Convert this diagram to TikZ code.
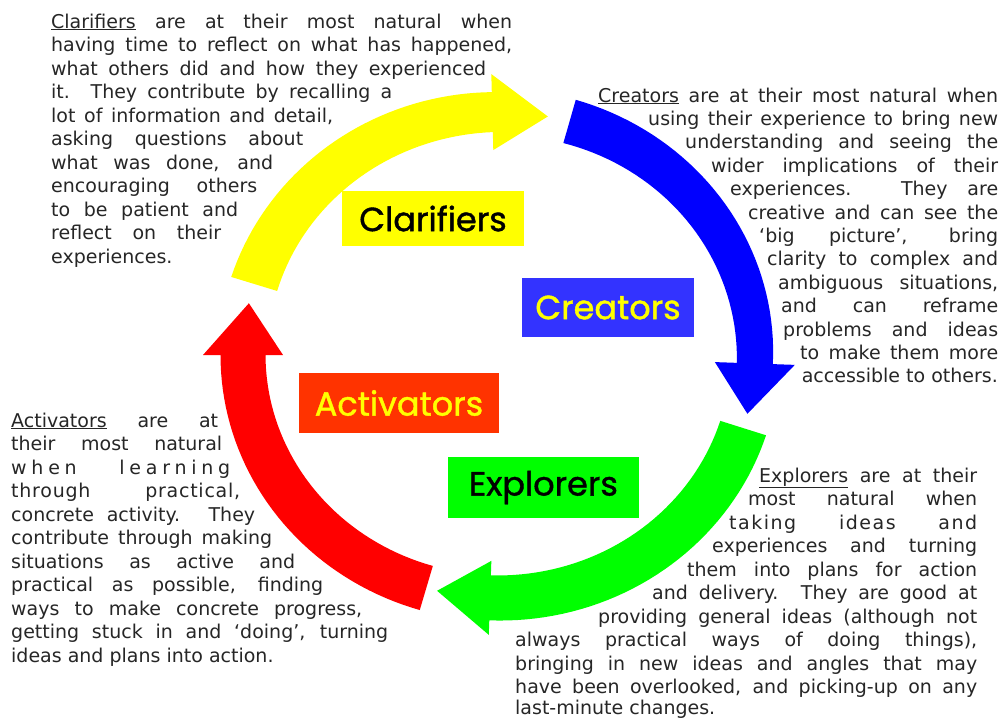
\documentclass[tikz,border=0pt]{standalone}
\usepackage{fontspec}
\setmainfont{DejaVu Sans}
\newfontfamily\labelfont[FakeBold=1.2]{Poppins}
\definecolor{aryellow}{HTML}{FFFF00}
\definecolor{arblue}{HTML}{0000FF}
\definecolor{argreen}{HTML}{00FF00}
\definecolor{arred}{HTML}{FF0000}
\definecolor{boxblue}{HTML}{3333FF}
\definecolor{boxred}{HTML}{FF3300}
% #1 colour, #2 tail angle, #3 head-back angle, #4 tip angle,
% #5 half width at tail, #6 half width at head, #7 half width of head
\newcommand\cyclearrow[7]{%
  \fill[#1] plot[domain=#2:#3, samples=40, variable=\t]
      ({(256+#5+(#6-#5)*(\t-(#2))/((#3)-(#2)))*cos(\t)},{(243+#5+(#6-#5)*(\t-(#2))/((#3)-(#2)))*sin(\t)})
    -- ({(256+#7)*cos(#3)},{(243+#7)*sin(#3)})
    -- ({256*cos(#4)},{243*sin(#4)})
    -- ({(256-#7)*cos(#3)},{(243-#7)*sin(#3)})
    -- plot[domain=#3:#2, samples=40, variable=\t]
      ({(256-#5-(#6-#5)*(\t-(#2))/((#3)-(#2)))*cos(\t)},{(243-#5-(#6-#5)*(\t-(#2))/((#3)-(#2)))*sin(\t)})
    -- cycle;}
\newcommand\jl[5]{\node[bodyline] (#1) at (#2,#3) {\makebox[#4pt][s]{#5}};}
\tikzset{
  bodyline/.style={anchor=base west, inner sep=0pt, text=black!85},
  labelbox/.style={rectangle, inner sep=0pt, font=\labelfont\fontsize{33.5}{33.5}\selectfont}
}
\begin{document}
\begin{tikzpicture}[x=1pt,y=-1pt,font=\fontsize{19}{23.5}\selectfont]
\useasboundingbox (0,0) rectangle (1003,718);
\fill[white] (0,0) rectangle (1003,718);
% arrows
\begin{scope}[shift={(499,355)}]
  \cyclearrow{aryellow}{-163}{-91.5}{-79}{24}{20}{38}
  \cyclearrow{arblue}{-74}{2}{14}{22.5}{18}{40}
  \cyclearrow{argreen}{17.5}{92}{104}{24}{22.5}{37}
  \cyclearrow{arred}{106.5}{180}{192.3}{23}{22.5}{40}
\end{scope}
% label boxes
\node[labelbox, fill=aryellow, minimum width=182, minimum height=55, text=black] (clar) at (433,218.5) {Clarifiers};
\node[labelbox, fill=boxblue, minimum width=172, minimum height=59, text=aryellow] (crea) at (608,307.5) {Creators};
\node[labelbox, fill=boxred, minimum width=200, minimum height=60, text=aryellow] (acti) at (399,403) {Activators};
\node[labelbox, fill=argreen, minimum width=191, minimum height=61, text=black] (expl) at (543.5,487.5) {Explorers};
% Clarifiers text
\jl{c1}{51}{28}{461}{\underline{Clarifiers} are at their most natural when}
\jl{c2}{51}{51.5}{461}{having time to reflect on what has happened,}
\jl{c3}{51}{75}{435}{what others did and how they experienced}
\jl{c4}{51}{98.5}{341}{it. They contribute by recalling a}
\jl{c5}{51}{122}{282}{lot of information and detail,}
\jl{c6}{51}{145.5}{252}{asking questions about}
\jl{c7}{51}{169}{222}{what was done, and}
\jl{c8}{51}{192.5}{206}{encouraging others}
\jl{c9}{51}{216}{187}{to be patient and}
\jl{c10}{51}{239.5}{170}{reflect on their}
\node[bodyline] (c11) at (51,263) {experiences.};
% Creators text
\jl{r1}{598}{102}{400}{\underline{Creators} are at their most natural when}
\jl{r2}{648}{125.4}{350}{using their experience to bring new}
\jl{r3}{685}{148.8}{313}{understanding and seeing the}
\jl{r4}{711}{172.2}{287}{wider implications of their}
\jl{r5}{730}{195.6}{268}{experiences. They are}
\jl{r6}{748}{219}{250}{creative and can see the}
\jl{r7}{759}{242.4}{239}{‘big picture’, bring}
\jl{r8}{767}{265.8}{231}{clarity to complex and}
\jl{r9}{778}{289.2}{220}{ambiguous situations,}
\jl{r10}{781}{312.6}{217}{and can reframe}
\jl{r11}{783}{336}{215}{problems and ideas}
\jl{r12}{800}{359.4}{198}{to make them more}
\node[bodyline, anchor=base east] (r13) at (998,382.8) {accessible to others.};
% Activators text
\jl{a1}{11}{427}{207}{\underline{Activators} are at}
\jl{a2}{11}{450.5}{211}{their most natural}
\jl{a3}{11}{474}{219}{{\addfontfeature{LetterSpace=25}when learning}}
\jl{a4}{11}{497.5}{229}{{\addfontfeature{LetterSpace=4}through practical,}}
\jl{a5}{11}{521}{244}{concrete activity. They}
\jl{a6}{11}{544.5}{261}{contribute through making}
\jl{a7}{11}{568}{284}{situations as active and}
\jl{a8}{11}{591.5}{312}{practical as possible, finding}
\jl{a9}{11}{615}{351}{ways to make concrete progress,}
\jl{a10}{11}{638.5}{377}{getting stuck in and ‘doing’, turning}
\node[bodyline] (a11) at (11,662) {ideas and plans into action.};
% Explorers text
\jl{e1}{759}{482}{218}{\underline{Explorers} are at their}
\jl{e2}{748}{505.5}{229}{most natural when}
\jl{e3}{729}{529}{248}{{\addfontfeature{LetterSpace=8}taking ideas and}}
\jl{e4}{712}{552.5}{265}{experiences and turning}
\jl{e5}{687}{576}{290}{them into plans for action}
\jl{e6}{652}{599.5}{325}{and delivery. They are good at}
\jl{e7}{598}{623}{379}{providing general ideas (although not}
\jl{e8}{515}{646.5}{462}{always practical ways of doing things),}
\jl{e9}{515}{670}{462}{bringing in new ideas and angles that may}
\jl{e10}{515}{693.5}{462}{have been overlooked, and picking-up on any}
\node[bodyline] (e11) at (515,714) {last-minute changes.};
\end{tikzpicture}
\end{document}
